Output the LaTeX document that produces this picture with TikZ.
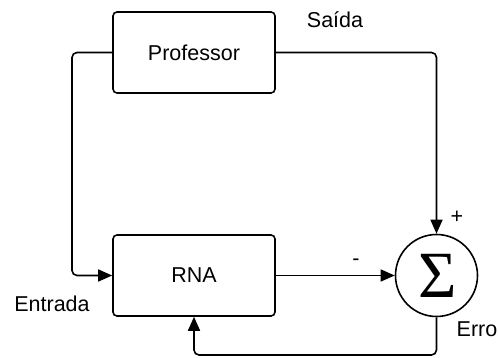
\documentclass[tikz,border=0pt]{standalone}
\usepackage{fontspec}
\setmainfont{Liberation Sans}
\newfontfamily\sigfont{Liberation Serif}
\usetikzlibrary{arrows.meta}
\begin{document}
\begin{tikzpicture}[x=1pt,y=1pt,
  blk/.style={draw,line width=1.6pt,rounded corners=4pt,minimum width=162pt,minimum height=81pt,inner sep=0pt,font=\fontsize{21.5}{24}\selectfont},
  lbl/.style={font=\fontsize{21.5}{24}\selectfont,inner sep=0pt},
  conn/.style={line width=1.6pt,rounded corners=5pt,-{Triangle[length=14pt,width=12pt]}}]
\useasboundingbox (0,0) rectangle (498,358);
\node[blk] (prof) at (194,305.5) {Professor};
\node[blk] (rna) at (194,82.5) {RNA};
\node[draw,circle,line width=1.6pt,minimum size=82pt,inner sep=0pt] (sum) at (436.5,82.5) {};
\node[inner sep=0pt] (sig) at (437.5,82) {\sigfont\fontsize{66}{70}\selectfont Σ};
\coordinate (tl) at (72,305.5);
\coordinate (br) at (436.5,3);
\draw[conn] (prof.west) -- (tl) |- (rna.west);
\draw[conn] (prof.east) -| (sum.north);
\draw[conn] (rna.east) -- (sum.west);
\draw[conn] (sum.south) -- (br) -| (rna.south);
\node[lbl] (saida) at (335,338) {Saída};
\node[lbl] (entrada) at (52,54) {Entrada};
\node[lbl] (erro) at (477,29) {Erro};
\node[lbl] (plus) at (457,141) {+};
\node[lbl] (minus) at (356,96) {-};
\end{tikzpicture}
\end{document}
